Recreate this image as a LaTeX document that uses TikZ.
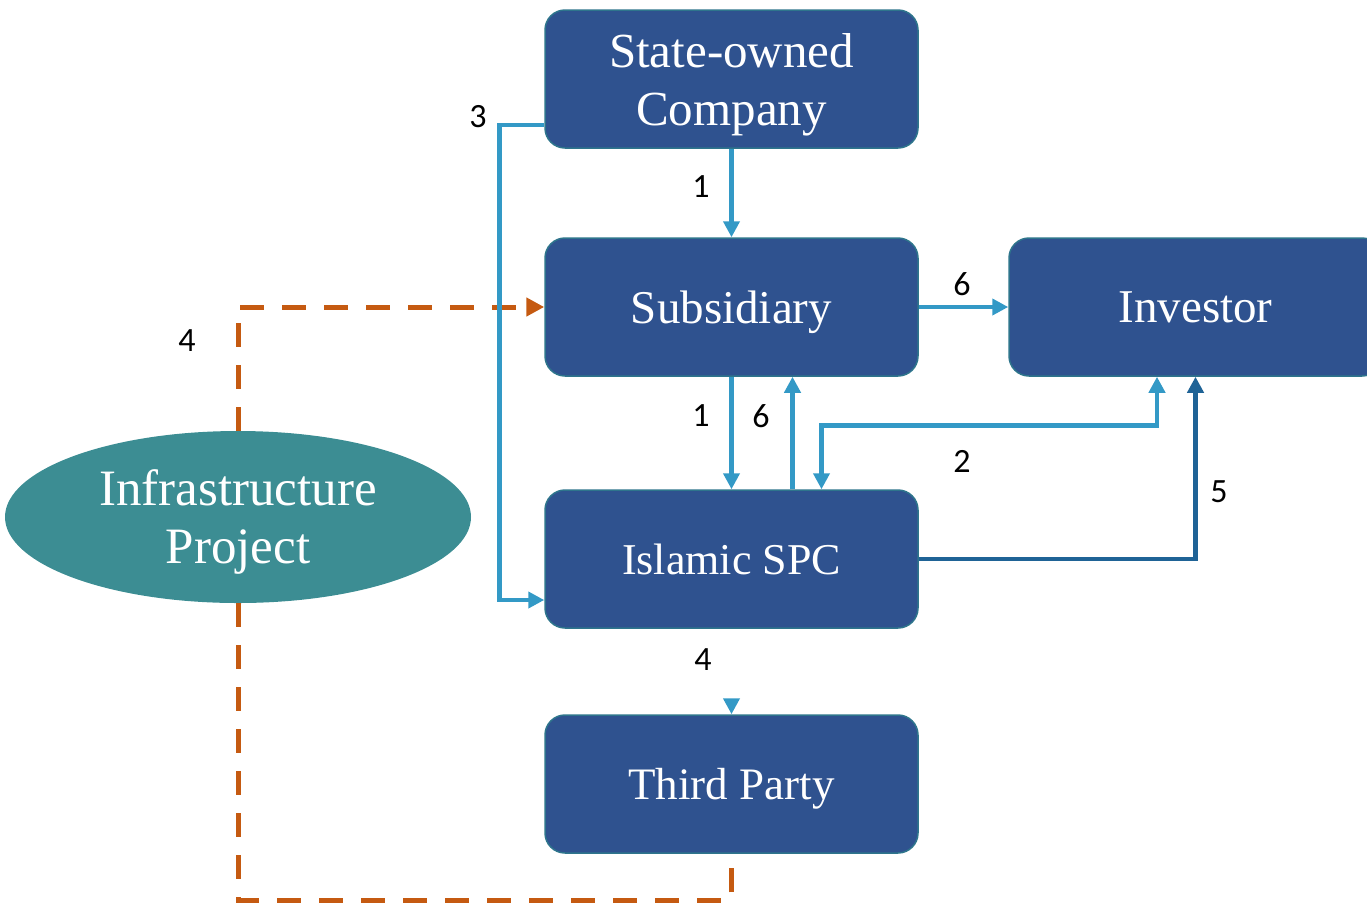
\documentclass[tikz,border=0pt]{standalone}
\usepackage{fontspec}
\setmainfont{Liberation Serif}
\newfontfamily\numfont{Carlito}
\usetikzlibrary{arrows.meta,shapes.geometric}

\begin{document}
\begin{tikzpicture}[x=1pt, y=-1pt, >={Triangle[length=16pt, width=16pt]},
  box/.style={draw=boxedge, fill=boxfill, rounded corners=20pt, line width=1.5pt, minimum width=373pt, minimum height=138pt,
    text=white, align=center, inner sep=0pt, text depth=0pt, font=\fontsize{47}{58}\selectfont},
  flow/.style={->, line width=4.5pt, draw=flowblue},
  dashflow/.style={line width=5pt, draw=dashorange, dash pattern=on 24pt off 18pt},
  num/.style={font=\numfont\fontsize{34}{34}\selectfont, inner sep=1pt}]
\definecolor{boxfill}{RGB}{47,82,143}\definecolor{boxedge}{RGB}{46,117,140}
\definecolor{projfill}{RGB}{60,141,147}\definecolor{flowblue}{RGB}{51,153,198}
\definecolor{flowdark}{RGB}{31,99,150}\definecolor{dashorange}{RGB}{197,90,17}
\useasboundingbox (0,0) rectangle (1367,903);
% boxes
\node[box, font=\fontsize{49}{58}\selectfont] (soc) at (731.5,79) {State-owned\\Company};
\node[box] (sub) at (731.5,307) {Subsidiary};
\node[box] (inv) at (1195.5,307) {Investor};
\node[box, font=\fontsize{44}{58}\selectfont] (spc) at (731.5,559) {Islamic SPC};
\node[box, font=\fontsize{45}{58}\selectfont] (tp) at (731.5,784) {Third Party};
\node[ellipse, fill=projfill, minimum width=466pt, minimum height=172pt, inner sep=0pt, text=white, align=center,
  text depth=0pt, font=\fontsize{51}{58}\selectfont] (proj) at (238,517) {Infrastructure\\Project};
% dashed link round the project
\draw[dashflow, ->, >={Triangle[length=18pt, width=18pt]}] (proj.north) |- (sub.west);
\coordinate (low) at (238,900);
\draw[dashflow] (proj.south) -- (low) -| (tp.south);
% blue flows
\draw[flow] (soc.south) -- (sub.north);
\draw[flow] (sub.south) -- (spc.north);
\draw[flow] ([xshift=61pt]spc.north) -- ([xshift=61pt]sub.south);
\draw[flow] (sub.east) -- (inv.west);
\draw[flow, <->] ([xshift=90pt]spc.north) -- ++(0,-64) -| ([xshift=-38.5pt]inv.south);
\draw[flow, draw=flowdark] (spc.east) -| (inv.south);
\draw[flow] ([yshift=-46pt]soc.west) -- ++(-45,0) |- ([yshift=-41pt]spc.west);
\coordinate (tip4) at (731.5,701);
\draw[flow] (tip4) -- (tp.north);
% step numbers
\node[num] (l1a) at (701,187) {1};
\node[num] (l1b) at (701,416) {1};
\node[num] (l6a) at (761,416) {6};
\node[num] (l6b) at (962,284) {6};
\node[num] (l2) at (962,461) {2};
\node[num] (l5) at (1219,492) {5};
\node[num] (l3) at (478,117) {3};
\node[num] (l4a) at (187,341) {4};
\node[num] (l4b) at (703,660) {4};
\end{tikzpicture}
\end{document}
